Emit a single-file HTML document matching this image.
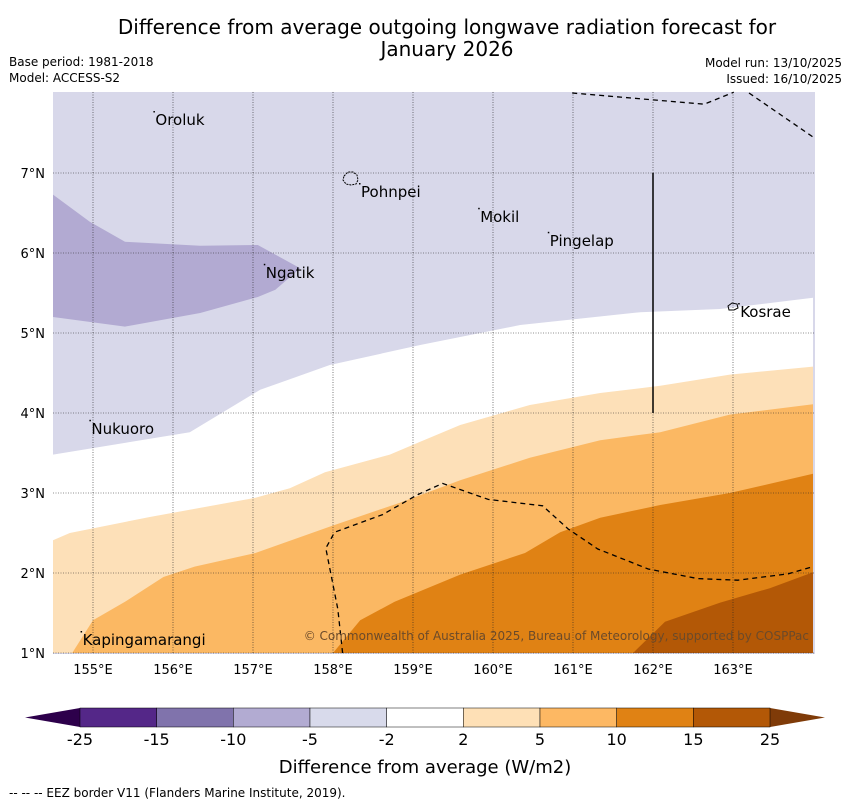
<!DOCTYPE html>
<html><head><meta charset="utf-8">
<style>
body{margin:0;background:#fff;font-family:"DejaVu Sans","Liberation Sans",sans-serif;}
svg text{font-family:"DejaVu Sans","Liberation Sans",sans-serif;}
</style></head>
<body>
<svg id="c" width="850" height="804" viewBox="0 0 850 804" xmlns="http://www.w3.org/2000/svg">
<text x="447" y="34" font-size="20" text-anchor="middle">Difference from average outgoing longwave radiation forecast for</text>
<text x="447" y="56" font-size="20" text-anchor="middle">January 2026</text>
<text x="9" y="66" font-size="12">Base period: 1981-2018</text>
<text x="9" y="82" font-size="12">Model: ACCESS-S2</text>
<text x="842" y="67" font-size="12" text-anchor="end">Model run: 13/10/2025</text>
<text x="842" y="83" font-size="12" text-anchor="end">Issued: 16/10/2025</text>
<g id="map"></g>
<g id="cb"></g>
<text x="425" y="773" font-size="18" text-anchor="middle">Difference from average (W/m2)</text>
<text x="9" y="797" font-size="12">-- -- -- EEZ border V11 (Flanders Marine Institute, 2019).</text>
</svg>
<script>
const lonTicks=[155,156,157,158,159,160,161,162,163];
const latTicks=[1,2,3,4,5,6,7];
const bndA=[[154.5,3.48],[156.21,3.76],[157.09,4.29],[157.96,4.6],[159.09,4.85],[160.34,5.1],[161.84,5.26],[162.84,5.3],[164,5.44]];
const bndB=[[154.5,2.41],[154.71,2.5],[155.71,2.7],[157.03,2.94],[157.46,3.06],[157.9,3.26],[158.71,3.48],[159.09,3.64],[159.59,3.85],[160.46,4.1],[161.34,4.25],[162.09,4.34],[162.96,4.48],[164,4.58]];
const bndC=[[154.74,1.0],[155.0,1.41],[155.4,1.64],[155.88,1.95],[156.27,2.08],[157.03,2.25],[157.96,2.58],[158.84,2.88],[159.59,3.16],[160.46,3.44],[161.34,3.66],[162.09,3.76],[162.96,3.98],[164,4.11]];
const bndD=[[158.0,1.0],[158.34,1.41],[158.77,1.64],[159.59,1.98],[160.4,2.25],[160.84,2.51],[161.34,2.69],[162.09,2.85],[162.96,3.0],[164,3.24]];
const bndE=[[161.75,1.0],[162.15,1.39],[162.84,1.63],[163.46,1.81],[164,2.01]];
const darkLav=[[154.5,6.73],[154.96,6.39],[155.4,6.14],[156.34,6.09],[157.06,6.1],[157.59,5.81],[157.28,5.54],[157.06,5.45],[156.34,5.25],[155.4,5.08],[154.5,5.2]];
const eezLow=[[158.12,1.0],[158.06,1.55],[157.91,2.31],[158.02,2.51],[158.62,2.73],[159.06,2.98],[159.37,3.12],[159.94,2.92],[160.62,2.84],[160.94,2.55],[161.31,2.3],[161.94,2.05],[162.56,1.93],[163.06,1.91],[163.69,1.99],[164,2.08]];
const eezTop1=[[160.99,8.0],[162.64,7.86],[163.01,8.01]];
const eezTop2=[[163.2,8.0],[164,7.45]];
const islands=[["Oroluk",155.78,7.6],["Pohnpei",158.35,6.7],["Mokil",159.84,6.39],["Pingelap",160.71,6.09],["Ngatik",157.16,5.69],["Kosrae",163.09,5.2],["Nukuoro",154.98,3.74],["Kapingamarangi",154.87,1.1]];
const cbLabels=["-25","-15","-10","-5","-2","2","5","10","15","25"];
const cbColors=["#542788","#8073ac","#b2abd2","#d8daeb","#ffffff","#fee0b6","#fdb863","#e08214","#b35806"];
const NS="http://www.w3.org/2000/svg";
const X0=53,X1=815,Y0=92,Y1=654;
const xs=l=>53+(l-154.5)*80, ys=a=>653-(a-1)*80;
function mk(t,a,p){const e=document.createElementNS(NS,t);for(const k in a)e.setAttribute(k,a[k]);p.appendChild(e);return e;}
const map=document.getElementById('map');
const pts=arr=>arr.map(p=>xs(p[0]).toFixed(1)+','+ys(p[1]).toFixed(1)).join(' ');
let r=mk('rect',{x:X0,y:Y0,width:X1-X0,height:Y1-Y0,fill:'#d8d8ea'},map);


const under=(b,col,name)=>{const arr=b.concat([[164,1],[b[0][0],1]]);const p=mk('polygon',{points:pts(arr),fill:col},map);

};
let dl=mk('polygon',{points:pts(darkLav),fill:'#b2aad2'},map);


under(bndA,'#ffffff','contour-neutral');
under(bndB,'#fde0b8','contour-2-5');
under(bndC,'#fbb863','contour-5-10');
under(bndD,'#e08214','contour-10-15');
under(bndE,'#b35806','contour-15-25');
lonTicks.forEach(l=>{const x=xs(l);
let g=mk('line',{x1:x,x2:x,y1:Y0,y2:Y1,stroke:'#222','stroke-width':0.6,'stroke-dasharray':'1,1.5'},map);


let t=mk('text',{x:x,y:674,'font-size':13,'text-anchor':'middle'},map);t.textContent=l+'°E';

});
latTicks.forEach(a=>{const y=ys(a);
let g=mk('line',{x1:X0,x2:X1,y1:y,y2:y,stroke:'#222','stroke-width':0.6,'stroke-dasharray':'1,1.5'},map);


let t=mk('text',{x:45,y:y+5,'font-size':13,'text-anchor':'end'},map);t.textContent=a+'°N';

});
[eezLow,eezTop1,eezTop2].forEach(e=>{let p=mk('polyline',{points:pts(e),fill:'none',stroke:'#000','stroke-width':1.3,'stroke-dasharray':'5,4'},map);

});
let vl=mk('line',{x1:xs(162),x2:xs(162),y1:ys(7),y2:ys(4),stroke:'#000','stroke-width':1.5},map);


let pi=mk('path',{d:'M344,176 l4,-4 5,0 4,3 1,5 -2,4 -5,1 -5,-1 -3,-4z',fill:'none',stroke:'#000','stroke-width':1,'stroke-dasharray':'2,1'},map);


let ki=mk('path',{d:'M728,306 l4,-3 5,1 1,4 -4,2 -5,0z',fill:'none',stroke:'#000','stroke-width':1},map);


islands.forEach(d=>{const x=xs(d[1]),y=ys(d[2]);
let t=mk('text',{x:x,y:y,'font-size':15},map);t.textContent=d[0];


let m=mk('rect',{x:x-2,y:y-14,width:1.5,height:1.5,fill:'#000'},map);

});
let cp=mk('text',{x:809,y:640,'font-size':12,'text-anchor':'end',fill:'#6b4a2a'},map);cp.textContent='© Commonwealth of Australia 2025, Bureau of Meteorology, supported by COSPPac';


const cb=document.getElementById('cb');
const cbx0=80,cbx1=770,cby=708,cbh=19,n=cbColors.length,w=(cbx1-cbx0)/n;
let lt=mk('polygon',{points:`${cbx0},${cby} ${cbx0},${cby+cbh} 25,${cby+cbh/2}`,fill:'#2d004b'},cb);


let rt=mk('polygon',{points:`${cbx1},${cby} ${cbx1},${cby+cbh} 825,${cby+cbh/2}`,fill:'#7f3b08'},cb);


cbColors.forEach((c,i)=>{let s=mk('rect',{x:cbx0+i*w,y:cby,width:w,height:cbh,fill:c,stroke:'#000','stroke-width':0.5},cb);

});
cbLabels.forEach((l,i)=>{let t=mk('text',{x:cbx0+i*w,y:745,'font-size':16,'text-anchor':'middle'},cb);t.textContent=l;

});
</script>
</body></html>
